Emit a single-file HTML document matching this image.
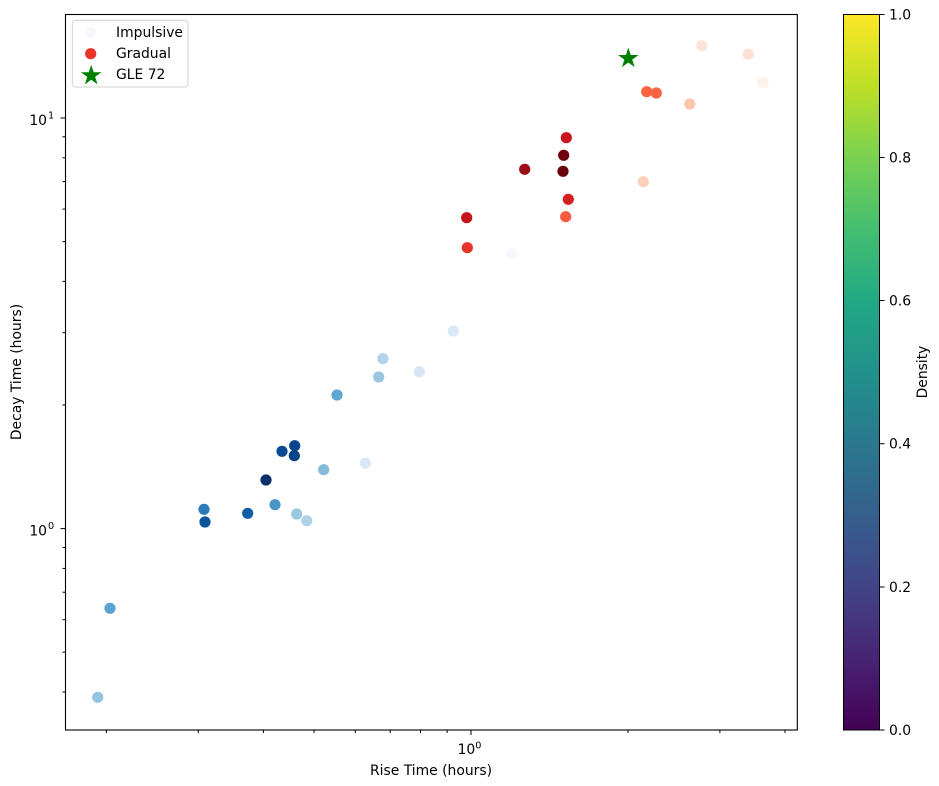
<!DOCTYPE html>
<html>
<head>
<meta charset="utf-8">
<style>
html,body{margin:0;padding:0;background:#fff;}
svg{display:block;font-family:"DejaVu Sans","Liberation Sans",sans-serif;}
</style>
</head>
<body>
<svg width="939" height="786" viewBox="0 0 939 786" xmlns="http://www.w3.org/2000/svg">
<defs>
<linearGradient id="vir" x1="0" y1="1" x2="0" y2="0">
<stop offset="0" stop-color="#440154"/>
<stop offset="0.1" stop-color="#482475"/>
<stop offset="0.2" stop-color="#414487"/>
<stop offset="0.3" stop-color="#355f8d"/>
<stop offset="0.4" stop-color="#2a788e"/>
<stop offset="0.5" stop-color="#21918c"/>
<stop offset="0.6" stop-color="#22a884"/>
<stop offset="0.7" stop-color="#44bf70"/>
<stop offset="0.8" stop-color="#7ad151"/>
<stop offset="0.9" stop-color="#bddf26"/>
<stop offset="1" stop-color="#fde725"/>
</linearGradient>
</defs>
<rect width="939" height="786" fill="#fff"/>

<!-- impulsive points -->
<g>
<circle cx="97.7" cy="697.3" r="5.6" fill="#94c4df"/>
<circle cx="110" cy="608.3" r="5.6" fill="#5ba3d0"/>
<circle cx="204" cy="509.3" r="5.6" fill="#2c7cba"/>
<circle cx="205" cy="522" r="5.6" fill="#0b559f"/>
<circle cx="247.7" cy="513.3" r="5.6" fill="#125ea6"/>
<circle cx="266" cy="480" r="5.6" fill="#08306b"/>
<circle cx="275" cy="504.7" r="5.6" fill="#4a98c9"/>
<circle cx="282" cy="451.3" r="5.6" fill="#0b4b93"/>
<circle cx="294.7" cy="445.7" r="5.6" fill="#08468b"/>
<circle cx="294.3" cy="455.7" r="5.6" fill="#084387"/>
<circle cx="296.7" cy="514" r="5.6" fill="#9ac8e0"/>
<circle cx="306.7" cy="520.7" r="5.6" fill="#b0d2e7"/>
<circle cx="323.7" cy="469.7" r="5.6" fill="#84bcdb"/>
<circle cx="337" cy="395" r="5.6" fill="#5fa6d1"/>
<circle cx="365.3" cy="463.3" r="5.6" fill="#dae8f6"/>
<circle cx="378.7" cy="377" r="5.6" fill="#98c7df"/>
<circle cx="383" cy="358.7" r="5.6" fill="#b3d3e8"/>
<circle cx="419.3" cy="371.7" r="5.6" fill="#d6e6f4"/>
<circle cx="453.3" cy="331" r="5.6" fill="#dbe9f6"/>
<circle cx="511.7" cy="253.7" r="5.6" fill="#f5f9fe"/>
</g>
<!-- gradual points -->
<g>
<circle cx="467.3" cy="247.7" r="5.6" fill="#e83429"/>
<circle cx="466.7" cy="217.7" r="5.6" fill="#c3161b"/>
<circle cx="524.7" cy="169.3" r="5.6" fill="#9b0d14"/>
<circle cx="563" cy="171.3" r="5.6" fill="#6a000d"/>
<circle cx="563.7" cy="155.3" r="5.6" fill="#6b010e"/>
<circle cx="566.3" cy="137.7" r="5.6" fill="#c8171c"/>
<circle cx="568.3" cy="199.3" r="5.6" fill="#d42020"/>
<circle cx="565.7" cy="216.7" r="5.6" fill="#fb5b40"/>
<circle cx="643.3" cy="181.7" r="5.6" fill="#fdd0bc"/>
<circle cx="646.7" cy="91.7" r="5.6" fill="#fb6343"/>
<circle cx="656.3" cy="93" r="5.6" fill="#fb6343"/>
<circle cx="689.7" cy="104" r="5.6" fill="#fdc5ae"/>
<circle cx="701.7" cy="45.7" r="5.6" fill="#fee3d6"/>
<circle cx="748.3" cy="54.3" r="5.6" fill="#fee1d4"/>
<circle cx="763" cy="82.7" r="5.6" fill="#fff0e9"/>
</g>
<!-- GLE 72 star -->
<polygon transform="translate(628.3,58.4)" fill="#008000" points="0,-10.8 2.43,-3.34 10.27,-3.34 3.93,1.28 6.35,8.74 0,4.13 -6.35,8.74 -3.93,1.28 -10.27,-3.34 -2.43,-3.34"/>

<!-- axes frame -->
<rect x="65.5" y="14.5" width="731.8" height="715.5" fill="none" stroke="#000" stroke-width="1.1"/>

<!-- x ticks -->
<g stroke="#000" stroke-width="1">
<line x1="471" y1="730" x2="471" y2="735"/>
<line x1="106.4" y1="730" x2="106.4" y2="733"/>
<line x1="198.3" y1="730" x2="198.3" y2="733"/>
<line x1="263.4" y1="730" x2="263.4" y2="733"/>
<line x1="314" y1="730" x2="314" y2="733"/>
<line x1="355.3" y1="730" x2="355.3" y2="733"/>
<line x1="390.2" y1="730" x2="390.2" y2="733"/>
<line x1="420.5" y1="730" x2="420.5" y2="733"/>
<line x1="447.1" y1="730" x2="447.1" y2="733"/>
<line x1="628" y1="730" x2="628" y2="733"/>
<line x1="719.9" y1="730" x2="719.9" y2="733"/>
<line x1="785" y1="730" x2="785" y2="733"/>
<!-- y ticks -->
<line x1="65.5" y1="118" x2="60.5" y2="118"/>
<line x1="65.5" y1="528.6" x2="60.5" y2="528.6"/>
<line x1="65.5" y1="692" x2="62.5" y2="692"/>
<line x1="65.5" y1="652.2" x2="62.5" y2="652.2"/>
<line x1="65.5" y1="619.7" x2="62.5" y2="619.7"/>
<line x1="65.5" y1="592.2" x2="62.5" y2="592.2"/>
<line x1="65.5" y1="568.4" x2="62.5" y2="568.4"/>
<line x1="65.5" y1="547.4" x2="62.5" y2="547.4"/>
<line x1="65.5" y1="405" x2="62.5" y2="405"/>
<line x1="65.5" y1="332.7" x2="62.5" y2="332.7"/>
<line x1="65.5" y1="281.4" x2="62.5" y2="281.4"/>
<line x1="65.5" y1="241.6" x2="62.5" y2="241.6"/>
<line x1="65.5" y1="209.1" x2="62.5" y2="209.1"/>
<line x1="65.5" y1="181.6" x2="62.5" y2="181.6"/>
<line x1="65.5" y1="157.8" x2="62.5" y2="157.8"/>
<line x1="65.5" y1="136.8" x2="62.5" y2="136.8"/>
</g>

<!-- tick labels -->
<g font-size="13.9" fill="#000">
<text x="469.5" y="754" text-anchor="middle">10<tspan font-size="9.7" dy="-5.5">0</tspan></text>
<text x="47" y="125" text-anchor="end">10</text>
<text x="48" y="118.5" font-size="9.7">1</text>
<text x="47" y="535.6" text-anchor="end">10</text>
<text x="48" y="529" font-size="9.7">0</text>
</g>

<!-- axis labels -->
<text x="431" y="775" font-size="13.9" text-anchor="middle">Rise Time (hours)</text>
<text transform="translate(21,372) rotate(-90)" font-size="13.9" text-anchor="middle">Decay Time (hours)</text>

<!-- legend -->
<rect x="72.3" y="20.3" width="115.7" height="66.7" rx="3" ry="3" fill="#fff" fill-opacity="0.8" stroke="#d0d0d0" stroke-width="1"/>
<circle cx="90.7" cy="32.7" r="5.6" fill="#f5f9fe"/>
<circle cx="90.7" cy="53.7" r="5.6" fill="#e83429"/>
<polygon transform="translate(91.2,75.6)" fill="#008000" points="0,-10.8 2.43,-3.34 10.27,-3.34 3.93,1.28 6.35,8.74 0,4.13 -6.35,8.74 -3.93,1.28 -10.27,-3.34 -2.43,-3.34"/>
<g font-size="13.9" fill="#000">
<text x="116" y="37">Impulsive</text>
<text x="116" y="58">Gradual</text>
<text x="116" y="79">GLE 72</text>
</g>

<!-- colorbar -->
<rect x="843.5" y="14.5" width="36" height="715.5" fill="url(#vir)" stroke="#000" stroke-width="1"/>
<g stroke="#000" stroke-width="1">
<line x1="879.5" y1="14.5" x2="884.5" y2="14.5"/>
<line x1="879.5" y1="157.5" x2="884.5" y2="157.5"/>
<line x1="879.5" y1="300.5" x2="884.5" y2="300.5"/>
<line x1="879.5" y1="443.7" x2="884.5" y2="443.7"/>
<line x1="879.5" y1="587" x2="884.5" y2="587"/>
<line x1="879.5" y1="730" x2="884.5" y2="730"/>
</g>
<g font-size="13.9" fill="#000">
<text x="889" y="19.5">1.0</text>
<text x="889" y="162.5">0.8</text>
<text x="889" y="305.5">0.6</text>
<text x="889" y="448.7">0.4</text>
<text x="889" y="592">0.2</text>
<text x="889" y="735">0.0</text>
</g>
<text transform="translate(927,372) rotate(-90)" font-size="13.9" text-anchor="middle">Density</text>
</svg>
</body>
</html>
